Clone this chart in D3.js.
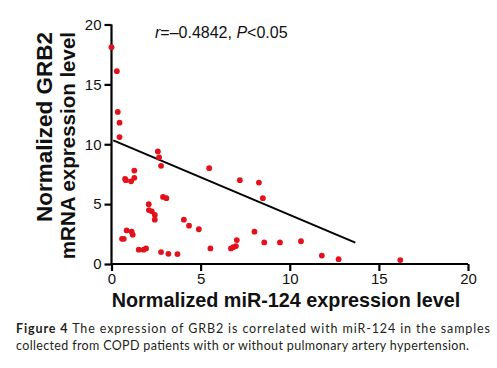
<!DOCTYPE html>
<html><head><meta charset="utf-8">
<script src="https://cdn.jsdelivr.net/npm/d3@7"></script>
<style>body{margin:0;background:#fff}svg{display:block}</style>
</head><body>
<svg id="c" width="497" height="368"></svg>
<script>
const miR124 = [0.0,0.3,0.35,0.45,0.45,2.6,2.67,2.78,1.28,0.76,0.81,1.1,1.28,2.89,3.08,2.09,2.1,2.26,2.43,2.43,4.06,4.35,4.9,0.85,1.13,1.19,0.59,0.69,1.53,1.8,1.94,2.78,3.19,3.7,5.48,7.2,8.27,8.49,8.02,7.03,6.98,6.83,6.7,5.55,8.57,9.45,10.63,11.8,12.74,16.2];
const grb2   = [18.1,16.1,12.7,11.8,10.6,9.4,8.9,8.2,7.8,7.1,7.0,6.9,7.2,5.6,5.5,5.0,4.5,4.4,4.1,3.7,3.7,3.2,2.9,2.8,2.7,2.45,2.1,2.1,1.2,1.2,1.3,1.0,0.85,0.83,8.0,7.0,6.8,5.5,2.7,2.0,1.5,1.4,1.3,1.3,1.8,1.8,1.9,0.7,0.4,0.33];
const fitX = [0.1, 13.68];
const fitY = [10.33, 1.78];
const xTicks = [0,5,10,15,20];
const yTicks = [0,5,10,15,20];

const svg = d3.select("#c");
const x = d3.scaleLinear().domain([0,20]).range([111.5,468]);
const y = d3.scaleLinear().domain([0,20]).range([264,24.5]);

const xAxis = svg.append("g").attr("transform","translate(0,264)")
  .call(d3.axisBottom(x).tickValues(xTicks).tickSize(7).tickPadding(2).tickFormat(d3.format("d")));
const yAxis = svg.append("g").attr("transform","translate(111.5,0)")
  .call(d3.axisLeft(y).tickValues(yTicks).tickSize(7).tickPadding(3).tickFormat(d3.format("d")));
[xAxis,yAxis].forEach(a=>{
  a.select(".domain").attr("stroke","#000").attr("stroke-width",2.2);
  a.selectAll(".tick line").attr("stroke","#000").attr("stroke-width",2.2);
  a.selectAll(".tick text").attr("font-family","Liberation Sans, Arial, sans-serif").attr("font-size",15).attr("fill","#111");
});
xAxis.select(".domain").attr("d", `M${x(0)},0H${x(20)}`);
yAxis.select(".domain").attr("d", `M0,${y(0)}V${y(20)}`);

svg.append("line")
  .attr("x1",x(fitX[0])).attr("y1",y(fitY[0]))
  .attr("x2",x(fitX[1])).attr("y2",y(fitY[1]))
  .attr("stroke","#000").attr("stroke-width",2);

svg.append("g").selectAll("circle").data(miR124.map((d,i)=>[d,grb2[i]])).join("circle")
  .attr("cx",d=>x(d[0])).attr("cy",d=>y(d[1])).attr("r",2.9)
  .attr("fill","#e3111b");

const ann = svg.append("text").attr("x",155).attr("y",38)
  .attr("font-family","Liberation Sans, Arial, sans-serif").attr("font-size",16).attr("fill","#111");
ann.append("tspan").attr("font-style","italic").text("r");
ann.append("tspan").text("=–0.4842, ");
ann.append("tspan").attr("font-style","italic").text("P");
ann.append("tspan").text("<0.05");

svg.append("text").attr("x",286).attr("y",307).attr("text-anchor","middle")
  .attr("font-family","Liberation Sans, Arial, sans-serif").attr("font-weight","bold").attr("font-size",19.8).attr("fill","#111")
  .text("Normalized miR-124 expression level");

const yl = svg.append("g").attr("transform","translate(0,32) rotate(-90)");
yl.append("text").attr("x",0).attr("y",52).attr("text-anchor","end")
  .attr("font-family","Liberation Sans, Arial, sans-serif").attr("font-weight","bold").attr("font-size",22.5).attr("fill","#111")
  .text("Normalized GRB2");
yl.append("text").attr("x",0).attr("y",75).attr("text-anchor","end")
  .attr("font-family","Liberation Sans, Arial, sans-serif").attr("font-weight","bold").attr("font-size",20.5).attr("fill","#111")
  .text("mRNA expression level");

const cap1 = svg.append("text").attr("x",16).attr("y",333).attr("font-family","Lato, sans-serif").attr("font-size",12.5).attr("fill","#231f20")
  .attr("textLength",474).attr("lengthAdjust","spacing");
cap1.append("tspan").attr("font-weight","bold").text("Figure 4");
cap1.append("tspan").text(" The expression of GRB2 is correlated with miR-124 in the samples");
svg.append("text").attr("x",16).attr("y",350).attr("font-family","Lato, sans-serif").attr("font-size",12.5).attr("fill","#231f20")
  .attr("textLength",453).attr("lengthAdjust","spacing")
  .text("collected from COPD patients with or without pulmonary artery hypertension.");
</script>
</body></html>
